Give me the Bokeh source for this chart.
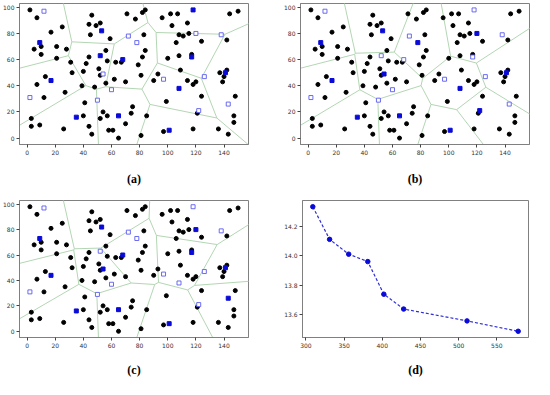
import numpy as np
from bokeh.plotting import figure
from bokeh.layouts import column, row
from bokeh.models import FixedTicker, PrintfTickFormatter, Range1d, ColumnDataSource
from bokeh.embed import file_html
from bokeh.resources import INLINE

# ---------------- data ----------------
# black data points (same in panels a, b, c)
bx = [2, 7, 17, 25, 5, 10, 10, 21, 21, 28, 31, 32, 13, 7, 12, 27, 3, 3, 9, 26,
      39, 40, 42, 44, 41, 40, 44, 46, 48, 51, 52, 52, 54, 57, 58, 61, 65, 70, 74, 75,
      56, 57, 56, 62, 63, 67, 70, 46, 44, 49, 52, 45, 59, 71, 77, 82, 84, 83, 84, 82,
      79, 81, 96, 102, 107, 103, 114, 108, 111, 115, 106, 124, 108, 117, 100, 109, 93, 90, 114, 118,
      120, 124, 99, 85, 97, 81, 118, 121, 136, 143, 144, 150, 142, 137, 142, 140, 139, 148, 147, 147]
by = [98, 92, 81, 85, 68, 70, 64, 70, 61, 68, 58, 50, 47, 41, 31, 35, 15, 9, 10, 7,
      40, 51, 57, 62, 27, 17, 9, 3, 39, 53, 48, 15, 20, 17, 6, 6, 0, 11, 19, 24,
      42, 59, 67, 45, 58, 58, 43, 94, 87, 86, 88, 79, 76, 95, 91, 96, 98, 79, 67, 62,
      56, 48, 92, 95, 95, 86, 88, 79, 78, 80, 73, 74, 63, 64, 61, 52, 49, 44, 44, 41,
      43, 32, 28, 17, 5, 2, 7, 19, 7, 3, 95, 97, 75, 50, 52, 47, 43, 32, 17, 12]

# candidate centres (blue squares)
cx = [12, 9, 17, 2, 35, 53, 52, 54, 60, 50, 65, 72, 78, 68, 97, 108, 101, 118, 120, 138,
      117, 126, 141, 122, 143]
cy = [97, 73, 44, 31, 16, 82, 63, 49, 37, 29, 17, 78, 73, 60, 45, 38, 6, 98, 80, 79,
      62, 47, 50, 21, 26]
# 1 = selected (filled), 0 = not selected (hollow)
sel_a = [0, 1, 1, 0, 1, 1, 1, 0, 0, 0, 1, 0, 0, 1, 0, 1, 1, 1, 0, 0, 1, 0, 1, 0, 0]
sel_b = [0, 1, 1, 0, 1, 1, 0, 1, 0, 0, 1, 0, 1, 0, 0, 1, 1, 0, 1, 0, 0, 0, 1, 1, 0]
sel_c = [0, 1, 1, 0, 1, 1, 0, 1, 0, 0, 1, 0, 0, 1, 0, 0, 1, 0, 1, 0, 1, 0, 1, 0, 1]

xticks_abc = [0, 20, 40, 60, 80, 100, 120, 140]
yticks_abc = [0, 20, 40, 60, 80, 100]

# panel (d)
d_x = [309, 331, 356, 381, 402, 428, 511, 578]
d_y = [14.33, 14.11, 14.01, 13.96, 13.74, 13.64, 13.56, 13.49]
xticks_d = [300, 350, 400, 450, 500, 550]
yticks_d = [13.6, 13.8, 14.0, 14.2]

captions = ["(a)", "(b)", "(c)", "(d)"]

# ---------------- helpers ----------------
FRAME = "#808080"


def voronoi_edges(px, py, box):
    P = np.column_stack([px, py]).astype(float)
    n = len(P)
    x0, y0, x1, y1 = [], [], [], []
    for i in range(n):
        for j in range(i + 1, n):
            pi, pj = P[i], P[j]
            m = (pi + pj) / 2.0
            v = pj - pi
            d = np.array([-v[1], v[0]]) / np.hypot(v[0], v[1])
            lo, hi = -1e6, 1e6
            ok = True
            for k in range(n):
                if k == i or k == j:
                    continue
                a = P[k] - pi
                b = P[k] @ P[k] - pi @ pi
                c = b - 2.0 * (m @ a)
                e = 2.0 * (d @ a)
                if abs(e) < 1e-12:
                    if c < 0:
                        ok = False
                        break
                elif e > 0:
                    hi = min(hi, c / e)
                else:
                    lo = max(lo, c / e)
            if not ok or lo >= hi:
                continue
            # clip to box
            for dim, (bmin, bmax) in enumerate(((box[0], box[1]), (box[2], box[3]))):
                if abs(d[dim]) < 1e-12:
                    if m[dim] < bmin or m[dim] > bmax:
                        ok = False
                    continue
                t1 = (bmin - m[dim]) / d[dim]
                t2 = (bmax - m[dim]) / d[dim]
                lo = max(lo, min(t1, t2))
                hi = min(hi, max(t1, t2))
            if not ok or lo >= hi:
                continue
            a0 = m + lo * d
            a1 = m + hi * d
            x0.append(a0[0]); y0.append(a0[1]); x1.append(a1[0]); y1.append(a1[1])
    return dict(x0=x0, y0=y0, x1=x1, y1=y1)


def make_fig(w, h, bl, br, bt, bb, xr, yr, xt, yt, caption, cap_standoff):
    p = figure(width=w, height=h, x_range=Range1d(*xr), y_range=Range1d(*yr),
               output_backend="svg", toolbar_location=None,
               min_border_left=bl, min_border_right=br,
               min_border_top=bt, min_border_bottom=bb)
    p.grid.visible = False
    p.outline_line_color = FRAME
    p.outline_line_width = 1
    p.background_fill_color = "white"
    p.border_fill_color = "white"
    for ax in p.axis:
        ax.axis_line_color = FRAME
        ax.major_tick_line_color = "#444444"
        ax.minor_tick_line_color = None
        ax.major_tick_out = 3
        ax.major_tick_in = 0
        ax.major_label_text_font = "DejaVu Sans"
        ax.major_label_text_font_size = "6px"
        ax.major_label_text_color = "#333333"
        ax.major_label_standoff = 2
    p.xaxis.ticker = FixedTicker(ticks=xt)
    p.yaxis.ticker = FixedTicker(ticks=yt)
    p.xaxis.axis_label = caption
    p.xaxis.axis_label_text_font = "Liberation Serif"
    p.xaxis.axis_label_text_font_style = "bold"
    p.xaxis.axis_label_text_font_size = "12px"
    p.xaxis.axis_label_text_color = "black"
    p.xaxis.axis_label_standoff = cap_standoff
    return p


XR = (-5.4, 157.4)
YR = (-4.9, 102.9)
BOX = (-40.0, 200.0, -40.0, 145.0)


def cluster_panel(sel, w, h, bl, br, bt, bb, caption, cap_standoff):
    p = make_fig(w, h, bl, br, bt, bb, XR, YR, xticks_abc, yticks_abc, caption, cap_standoff)
    fx = [x for x, s in zip(cx, sel) if s]
    fy = [y for y, s in zip(cy, sel) if s]
    hx = [x for x, s in zip(cx, sel) if not s]
    hy = [y for y, s in zip(cy, sel) if not s]
    src = ColumnDataSource(voronoi_edges(fx, fy, BOX))
    p.segment(x0="x0", y0="y0", x1="x1", y1="y1", source=src,
              line_color="#b3d6b3", line_width=1)
    p.scatter(bx, by, size=4.0, fill_color="black", line_color="black")
    p.scatter(hx, hy, marker="square", size=4.0, fill_color="white",
              line_color="#5a5af0", line_width=0.9)
    p.scatter(fx, fy, marker="square", size=4.0, fill_color="#0a0ad8",
              line_color="#0a0ad8")
    return p


pa = cluster_panel(sel_a, 267, 190, 16, 19, 3, 46, captions[0], 14)
pb = cluster_panel(sel_b, 267, 190, 33, 5, 3, 46, captions[1], 14)
pc = cluster_panel(sel_c, 267, 189, 16, 19, 10, 40, captions[2], 12)

pd = make_fig(267, 189, 35, 6, 2, 40, (295.5, 591.5), (13.448, 14.372),
              xticks_d, yticks_d, captions[3], 12)
pd.yaxis.formatter = PrintfTickFormatter(format="%.1f")
pd.line(d_x, d_y, line_color="#2d2dd8", line_width=1.2, line_dash="3 2")
pd.scatter(d_x, d_y, size=4.5, fill_color="#0a0ad8", line_color="#0a0ad8")

layout = column(row(pa, pb), row(pc, pd))
open("out.html", "w").write(file_html(layout, INLINE))
